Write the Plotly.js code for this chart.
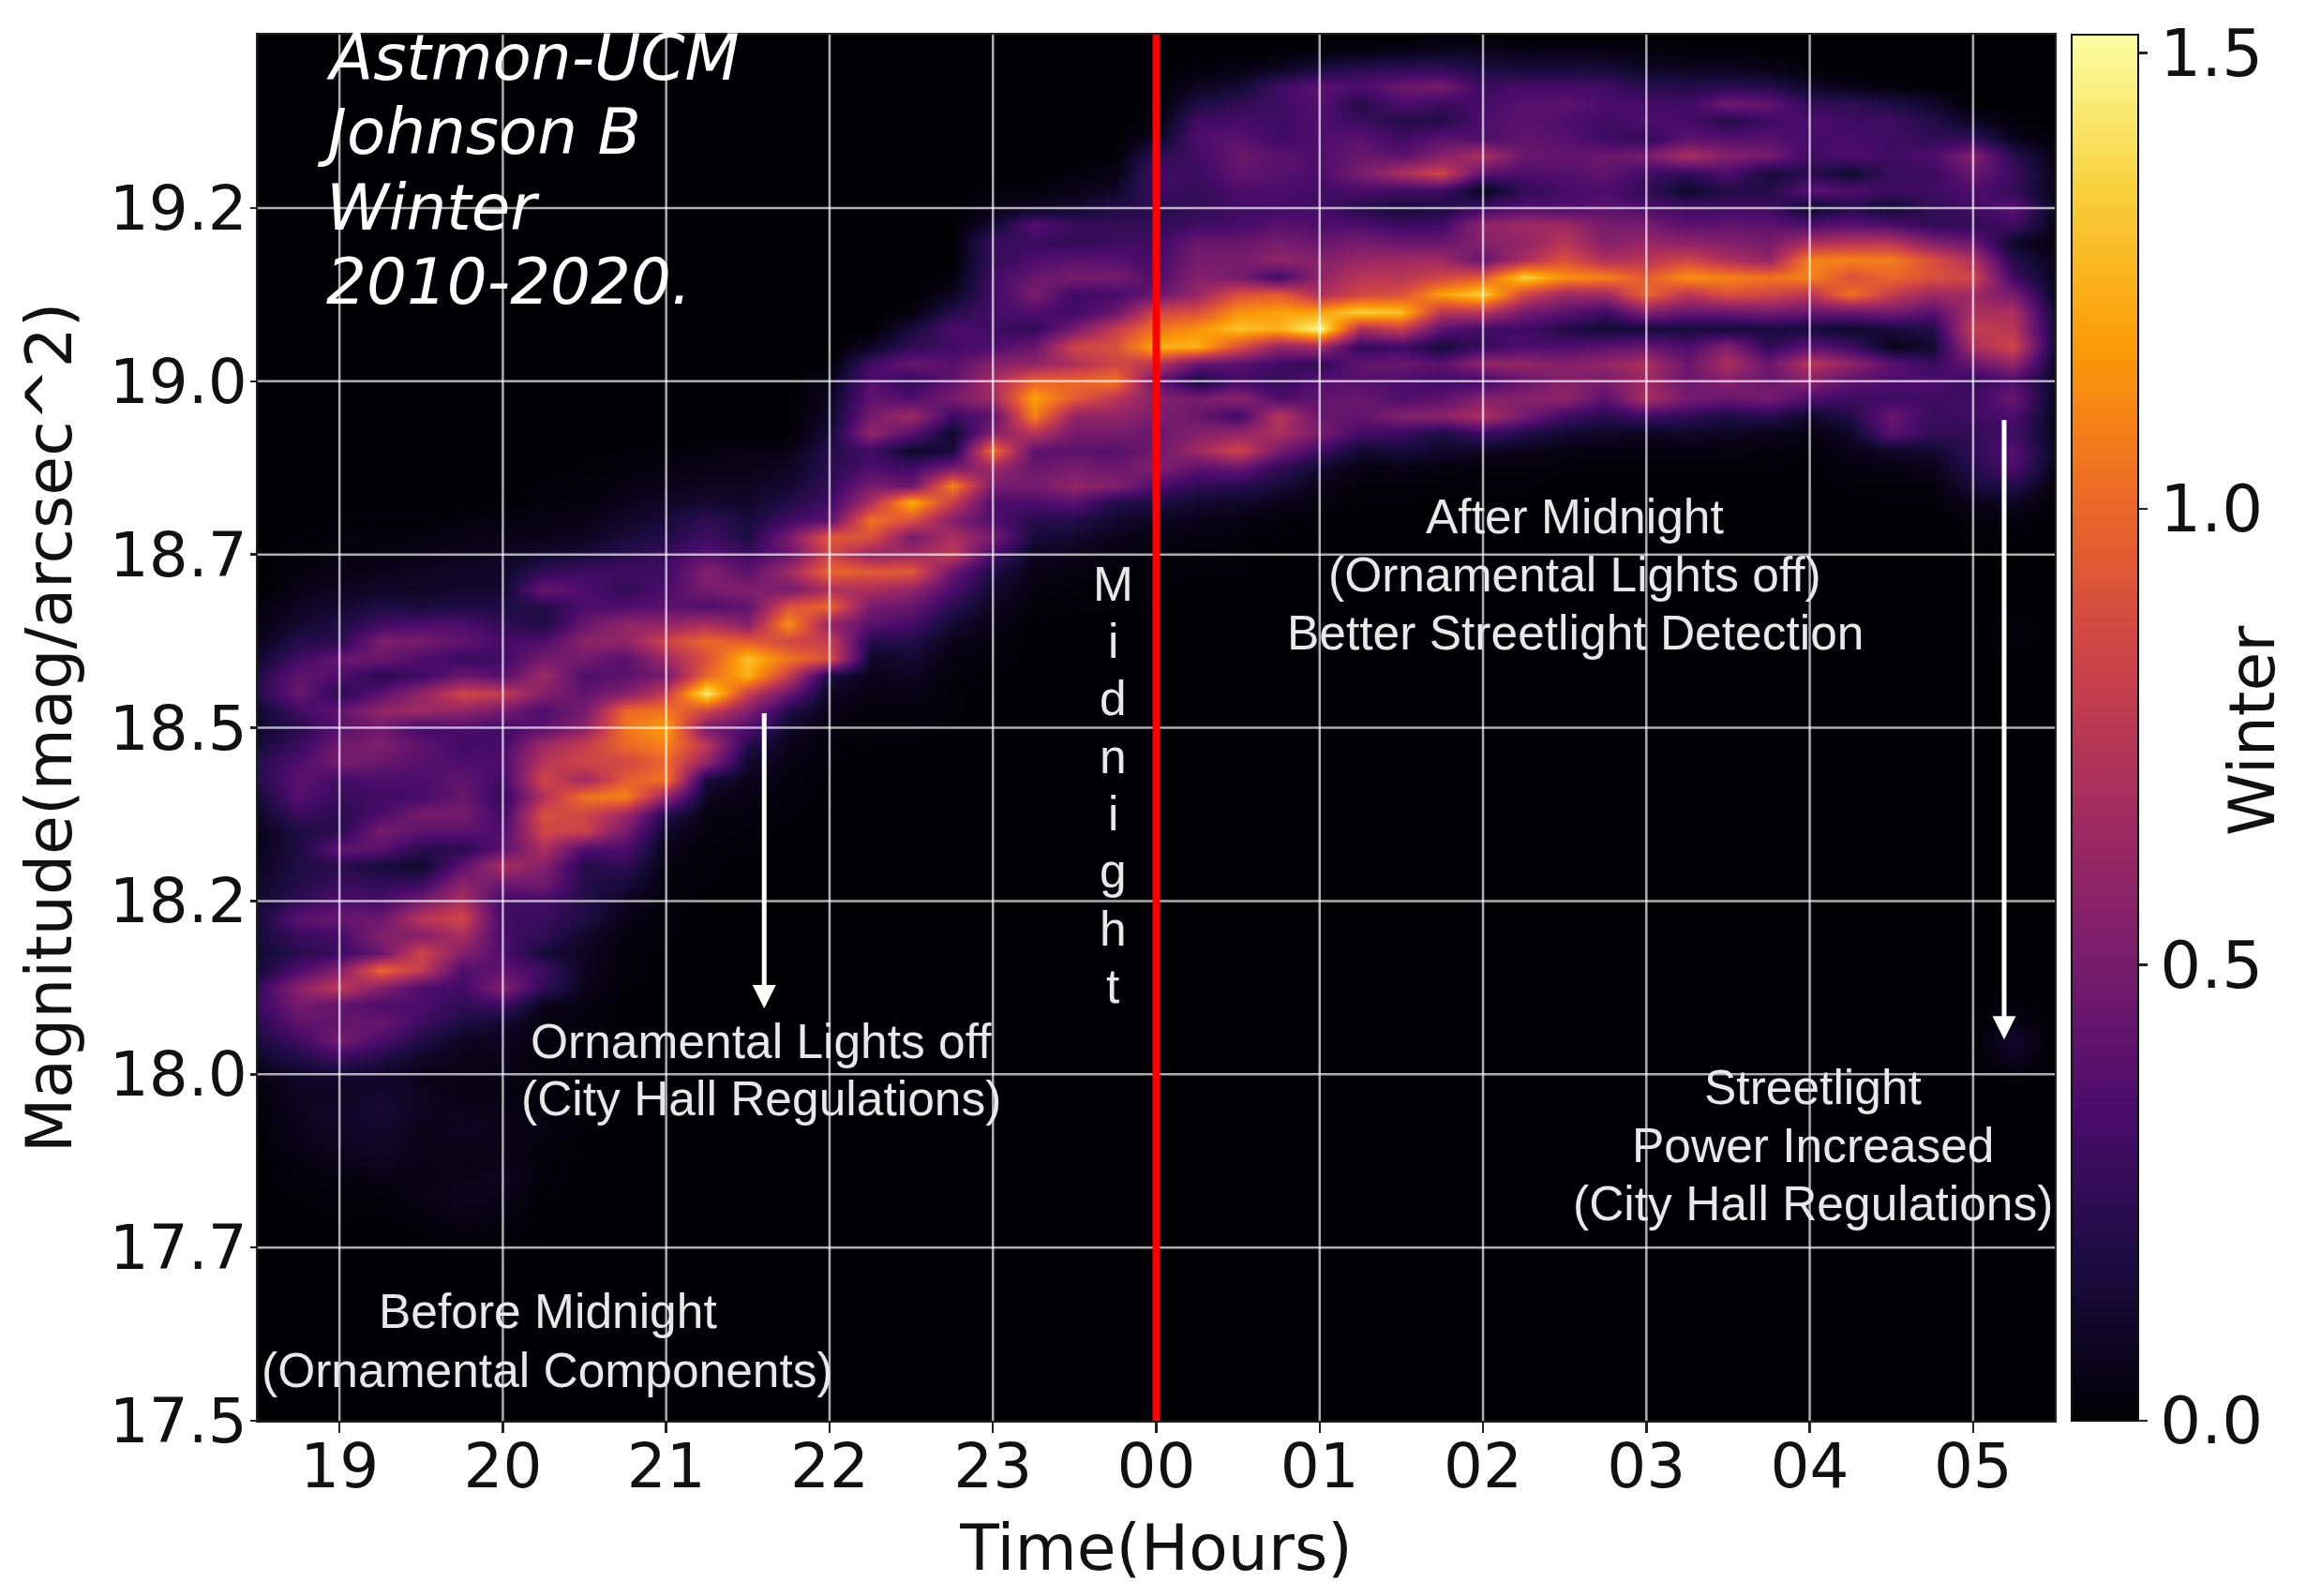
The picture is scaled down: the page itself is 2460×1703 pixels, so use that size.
<!DOCTYPE html>
<html><head><meta charset="utf-8">
<script src="https://cdn.plot.ly/plotly-3.0.1.min.js"></script>
<style>html,body{margin:0;padding:0;background:#fff}#p{width:2460px;height:1703px}</style>
</head><body><div id="p"></div>
<script>
const hours=[18.5,18.75,19,19.25,19.5,19.75,20,20.25,20.5,20.75,21,21.25,21.5,21.75,22,22.25,22.5,22.75,23,23.25,23.5,23.75,24,24.25,24.5,24.75,25,25.25,25.5,25.75,26,26.25,26.5,26.75,27,27.25,27.5,27.75,28,28.25,28.5,28.75,29,29.25,29.5];
const mags=[19.5,19.475,19.45,19.425,19.4,19.375,19.35,19.325,19.3,19.275,19.25,19.225,19.2,19.175,19.15,19.125,19.1,19.075,19.05,19.025,19,18.975,18.95,18.925,18.9,18.875,18.85,18.825,18.8,18.775,18.75,18.725,18.7,18.675,18.65,18.625,18.6,18.575,18.55,18.525,18.5,18.475,18.45,18.425,18.4,18.375,18.35,18.325,18.3,18.275,18.25,18.225,18.2,18.175,18.15,18.125,18.1,18.075,18.05,18.025,18,17.975,17.95,17.925,17.9,17.875,17.85,17.825,17.8,17.775,17.75,17.725,17.7,17.675,17.65,17.625,17.6,17.575,17.55,17.525,17.5];
const E8=[0,0,0,0,0,0,0,0];
// one list per hour column, brightness in hundredths, top (19.5) to bottom, eight cells per group; missing tail cells are dark
const columns=[
[...E8,...E8,...E8,...E8, 0,2,4,6,12,20,22,12, 10,15,22,22,15,10,6,6, 8,10,12,15,15,12,15,25, 28,22,18,10,4,2,1,1, 1],
[...E8,...E8,...E8, 0,0,0,0,0,1,2,3, 5,8,12,20,30,42,45,30, 22,28,35,40,38,28,18,18, 18,20,25,40,28,22,35,58, 50,42,30,20,10,8,8,6, 6,3,2,1],
[...E8,...E8,...E8, 0,0,0,0,1,2,3,5, 8,12,18,22,45,35,22,42, 38,48,50,32,28,22,22,42, 22,28,35,45,32,28,55,78, 42,42,50,30,12,8,10,10, 8,6,3,2,1],
[...E8,...E8,...E8, 0,0,0,0,1,3,4,6, 10,18,30,52,45,22,40,60, 48,52,45,35,30,35,50,40, 15,25,32,45,55,45,100,55, 35,45,35,20,10,12,14,12, 10,8,4,2,1],
[...E8,...E8,...E8, 0,0,0,0,1,3,5,8, 10,15,35,50,35,30,60,65, 30,42,38,35,32,50,40,22, 10,28,50,75,55,85,80,35, 35,30,20,10,6,8,8,6, 6,5,4,5,3,1],
[...E8,...E8,...E8, 0,0,0,0,2,5,6,10, 12,18,35,42,28,45,85,60, 35,30,35,42,45,50,40,22, 40,58,70,85,70,55,35,30, 25,18,8,6,5,4,6,8, 6,5,6,8,6,3,1],
[...E8,...E8,...E8, 0,0,0,1,3,6,8,10, 12,18,25,32,30,38,80,50, 30,32,35,30,25,30,35,40, 70,45,30,30,32,35,42,55, 30,12,8,6,5,4,5,6, 5,6,8,6,4,2,1],
[...E8,...E8,...E8, 0,0,1,2,4,6,12,25, 45,20,18,35,50,65,55,35, 40,65,75,85,72,90,85,70, 55,48,32,28,25,14,30,25, 6,3,3,2,2,2,3,4, 3,2,2,1],
[...E8,...E8,...E8, 0,1,2,3,5,8,15,30, 35,35,45,58,48,35,42,50, 58,80,85,65,105,85,82,35, 20,20,20,18,10,8,8,6, 4,3,2,2,1,1,1,1],
[...E8,...E8,...E8, 1,2,4,6,10,15,22,30, 25,35,60,60,38,40,55,100, 105,100,85,95,110,65,50,35, 25,15,8,5,3,2,2,1],
[...E8,...E8,...E8, 2,4,6,10,15,20,28,30, 35,40,60,85,65,50,80,105, 120,110,100,105,60,20,10,5, 3,2,2,1,1],
[...E8,...E8,...E8, 3,5,8,12,25,30,40,55, 50,35,70,100,90,100,145,85, 50,75,60,15,8,4,3,2, 1,1],
[...E8,...E8,...E8, 5,6,8,10,15,18,30,40, 55,42,55,95,130,125,80,55, 35,20,12,6,4,3,2,1],
[...E8,...E8,...E8, 5,8,12,20,30,50,45,65, 50,90,115,85,105,80,45,20, 10,6,4,3,2,1],
[...E8,...E8, 0,0,0,0,5,8,10,14, 20,22,25,30,40,95,85,100, 70,100,60,80,90,15,8,5, 3,2,1],
[...E8,...E8, 0,0,8,30,38,42,50,60, 30,35,50,70,105,90,60,95, 70,50,40,20,10,6,4,3, 2,1],
[...E8,...E8, 2,15,25,45,25,35,65,40, 10,30,45,125,90,50,65,95, 60,45,32,20,12,8,5,3, 2,1],
[...E8, 0,0,0,0,0,0,2,8, 20,35,30,38,42,50,30,10, 15,50,110,80,55,70,78,45, 35,22,12,6,3,2,1,1],
[...E8, 0,2,5,12,28,25,30,30, 32,30,35,55,68,65,40,55, 105,65,50,35,35,50,32,18, 12,8,5,3,2,1],
[...E8, 0,2,8,38,28,35,45,52, 35,25,45,60,100,120,110,75, 40,45,50,35,22,15,8,5, 3,2,1],
[...E8, 2,5,12,28,25,40,50,30, 30,50,85,70,100,95,60,50, 40,50,60,40,20,12,6,3, 2,1],
[0,0,0,0,0,0,0,1, 4,10,20,25,30,38,50,32, 45,80,90,85,105,75,60,50, 38,45,55,20,12,6,3,2, 1,1],
[0,0,0,0,0,2,8,24, 32,30,22,25,30,32,35,45, 85,105,125,75,42,55,52,45, 48,55,35,18,8,4,2,1, 1],
[0,0,2,8,18,30,35,30, 28,26,25,30,45,50,55,62, 90,115,125,45,15,50,45,55, 65,40,25,12,6,3,2,1],
[0,0,4,12,25,32,40,45, 42,35,30,32,45,50,50,90, 115,130,90,40,32,58,30,60, 85,45,22,10,4,2,1,1],
[0,1,8,30,30,30,30,40, 38,35,30,40,50,60,30,95, 120,125,60,30,25,35,75,70, 50,25,15,6,2,1],
[0,2,18,40,38,35,35,35, 35,30,32,35,45,55,60,70, 120,150,65,25,38,42,45,50, 30,12,6,3,1],
[0,4,22,35,20,28,40,45, 50,35,20,35,50,62,75,85, 135,70,25,42,38,45,42,32, 12,4,2,1],
[0,5,25,45,35,20,30,40, 70,30,15,28,45,65,75,90, 130,80,30,45,35,35,55,28, 15,5,2,1],
[0,8,25,50,28,20,40,55, 85,30,18,30,45,65,85,120, 75,40,15,40,30,40,58,18, 10,3,1],
[0,8,18,28,32,35,35,70, 40,5,30,60,55,42,95,135, 75,30,28,60,30,55,70,30, 8,2,1],
[0,5,15,32,38,40,42,45, 35,25,38,65,60,70,135,85, 50,30,35,60,45,55,50,20, 6,2,1],
[0,6,15,32,40,35,38,42, 38,32,35,65,75,90,115,65, 40,20,35,55,55,60,30,12, 4,1],
[0,5,15,30,35,30,30,45, 42,35,40,50,55,70,110,65, 30,12,40,60,50,40,22,10, 3,1],
[0,3,10,22,32,35,25,50, 30,25,35,50,62,75,95,100, 55,15,45,70,65,70,30,8, 3,1],
[0,2,8,20,30,32,40,70, 25,10,30,40,58,85,115,75, 45,15,35,45,45,50,25,10, 3,1],
[0,2,8,22,48,20,38,55, 35,20,30,42,55,70,110,90, 45,15,55,70,55,45,18,8, 3,1],
[0,1,5,20,42,30,38,50, 15,20,30,40,50,60,105,85, 50,15,25,45,45,50,22,6, 2,1],
[0,0,2,10,25,35,32,30, 22,40,10,35,70,110,110,75, 45,15,40,75,55,35,10,4, 1],
[0,0,0,5,25,30,32,35, 12,35,20,40,75,110,90,105, 45,10,30,60,40,30,20,10, 5,3,1],
[0,0,0,2,18,30,30,30, 28,30,12,35,75,108,100,80, 50,15,6,40,35,30,45,40, 10,4,2,1],
[0,0,0,0,12,20,25,35, 28,30,25,25,55,90,90,65, 38,20,12,28,35,30,28,25, 12,6,2,1],
[0,0,0,0,0,8,25,55, 45,35,30,25,45,70,85,65, 70,80,70,45,25,30,30,25, 25,20,15,6,2,1],
[0,0,0,0,0,2,6,22, 30,25,40,30,10,20,30,50, 70,75,85,60,35,45,35,30, 38,35,20,8,3,1,0,0, 0,0,2,2,0,0,0,0, ...E8,...E8, 2,5,12,8,2],
[0,0,0,0,0,0,2,4, 5,6,8,5,3,6,6,8, 12,15,15,10,8,8,6,6, 8,6,3,1]
];
const xTickVals=[19,20,21,22,23,24,25,26,27,28,29];
const xTickText=['19','20','21','22','23','00','01','02','03','04','05'];
const yTickVals=[17.5,17.75,18,18.25,18.5,18.75,19,19.25];
const yTickText=['17.5','17.7','18.0','18.2','18.5','18.7','19.0','19.2'];
const colorTickVals=[0,0.5,1,1.5];
const colorTickText=['0.0','0.5','1.0','1.5'];
const inferno=[[0,'#000004'],[0.111,'#1b0c41'],[0.222,'#4a0c6b'],[0.333,'#781c6d'],[0.444,'#a52c60'],[0.556,'#cf4446'],[0.667,'#ed6925'],[0.778,'#fb9b06'],[0.889,'#f7d13d'],[1,'#fcffa4']];

const z=mags.map((_,r)=>columns.map(c=>(c[r]||0)/100));
const F='"DejaVu Sans"', H='"Liberation Sans"';
const L=275,R=2192,T=37,B=1516;
const fx=p=>(p-L)/(R-L), fy=p=>(B-p)/(B-T);
const textColor='#e8e8e8';

const stamp=['Astmon-UCM','Johnson B','Winter','2010-2020.'];
const stampX=[346,336,346,346];
const stampY=[62,140,221,300];
const notes=['After Midnight','(Ornamental Lights off)','Better Streetlight Detection','Ornamental Lights off','(City Hall Regulations)','Before Midnight','(Ornamental Components)','Streetlight','Power Increased','(City Hall Regulations)'];
const noteX=[1680,1680,1680,812,812,584,584,1934,1934,1934];
const noteY=[551,613,675,1111,1172,1399,1462,1160,1222,1284];
const midnight=['M','i','d','n','i','g','h','t'];
const midnightY=[623,684,745,807,868,929,991,1052];

const ann=[];
stamp.forEach((t,i)=>ann.push({text:t,xref:'paper',yref:'paper',x:fx(stampX[i]),y:fy(stampY[i]),xanchor:'left',yanchor:'middle',showarrow:false,font:{family:F,size:67.5,color:'#fff',style:'italic'}}));
notes.forEach((t,i)=>ann.push({text:t,xref:'paper',yref:'paper',x:fx(noteX[i]),y:fy(noteY[i]),xanchor:'center',yanchor:'middle',showarrow:false,font:{family:H,size:51.5,color:textColor}}));
midnight.forEach((t,i)=>ann.push({text:t,xref:'paper',yref:'paper',x:fx(1187),y:fy(midnightY[i]),xanchor:'center',yanchor:'middle',showarrow:false,font:{family:H,size:51.5,color:textColor}}));
[[21.6,18.523,18.095],[29.19,18.946,18.05]].forEach(a=>ann.push({x:a[0],y:a[2],ax:a[0],ay:a[1],xref:'x',yref:'y',axref:'x',ayref:'y',text:'',showarrow:true,arrowhead:2,arrowsize:1,arrowwidth:5,arrowcolor:'#fff'}));
ann.push({text:'Winter',xref:'paper',yref:'paper',x:fx(2402),y:fy(780),xanchor:'center',yanchor:'middle',textangle:-90,showarrow:false,font:{family:F,size:68,color:'#111'}});

const gridLine={color:'rgba(255,255,255,0.68)',width:2.5};
const shapes=[
 ...xTickVals.map(v=>({type:'line',xref:'x',yref:'paper',x0:v,x1:v,y0:0,y1:1,line:gridLine,layer:'above'})),
 ...yTickVals.slice(1).map(v=>({type:'line',xref:'paper',yref:'y',x0:0,x1:1,y0:v,y1:v,line:gridLine,layer:'above'})),
 {type:'line',xref:'x',yref:'paper',x0:24,x1:24,y0:0,y1:1,line:{color:'#ff0000',width:8},layer:'above'}
];

const trace={type:'heatmap',x:hours,y:mags,z:z,zmin:0,zmax:1.52,zsmooth:'best',colorscale:inferno,
 colorbar:{x:(2210-L)/(R-L),xanchor:'left',xpad:0,ypad:0,y:0.5,yanchor:'middle',len:1,lenmode:'fraction',thickness:71,thicknessmode:'pixels',
  outlinecolor:'#111',outlinewidth:2,ticks:'outside',ticklen:9,tickwidth:2.5,tickcolor:'#222',
  tickmode:'array',tickvals:colorTickVals,ticktext:colorTickText,tickfont:{family:F,size:69,color:'#111'}},
 hoverinfo:'skip'};

const layout={width:2460,height:1703,margin:{l:L,r:2460-R,t:T,b:1703-B,pad:0},paper_bgcolor:'#fff',plot_bgcolor:'#000004',showlegend:false,
 xaxis:{range:[18.5,29.5],tickmode:'array',tickvals:xTickVals,ticktext:xTickText,showgrid:false,zeroline:false,ticks:'outside',ticklen:11,tickwidth:2.5,tickcolor:'#222',ticklabelstandoff:-21,
  showline:true,linecolor:'#222',linewidth:2,mirror:true,tickfont:{family:F,size:66,color:'#111'},title:{text:'Time(Hours)',standoff:25,font:{family:F,size:68,color:'#111'}}},
 yaxis:{range:[17.5,19.5],tickmode:'array',tickvals:yTickVals,ticktext:yTickText,showgrid:false,zeroline:false,ticks:'outside',ticklen:6,tickwidth:2.5,tickcolor:'#222',ticklabelstandoff:-10,
  showline:true,linecolor:'#222',linewidth:2,mirror:true,tickfont:{family:F,size:66,color:'#111'},title:{text:'Magnitude(mag/arcsec^2)',standoff:18,font:{family:F,size:68,color:'#111'}}},
 annotations:ann,shapes:shapes};
Plotly.newPlot('p',[trace],layout,{displayModeBar:false,staticPlot:true});
</script></body></html>
